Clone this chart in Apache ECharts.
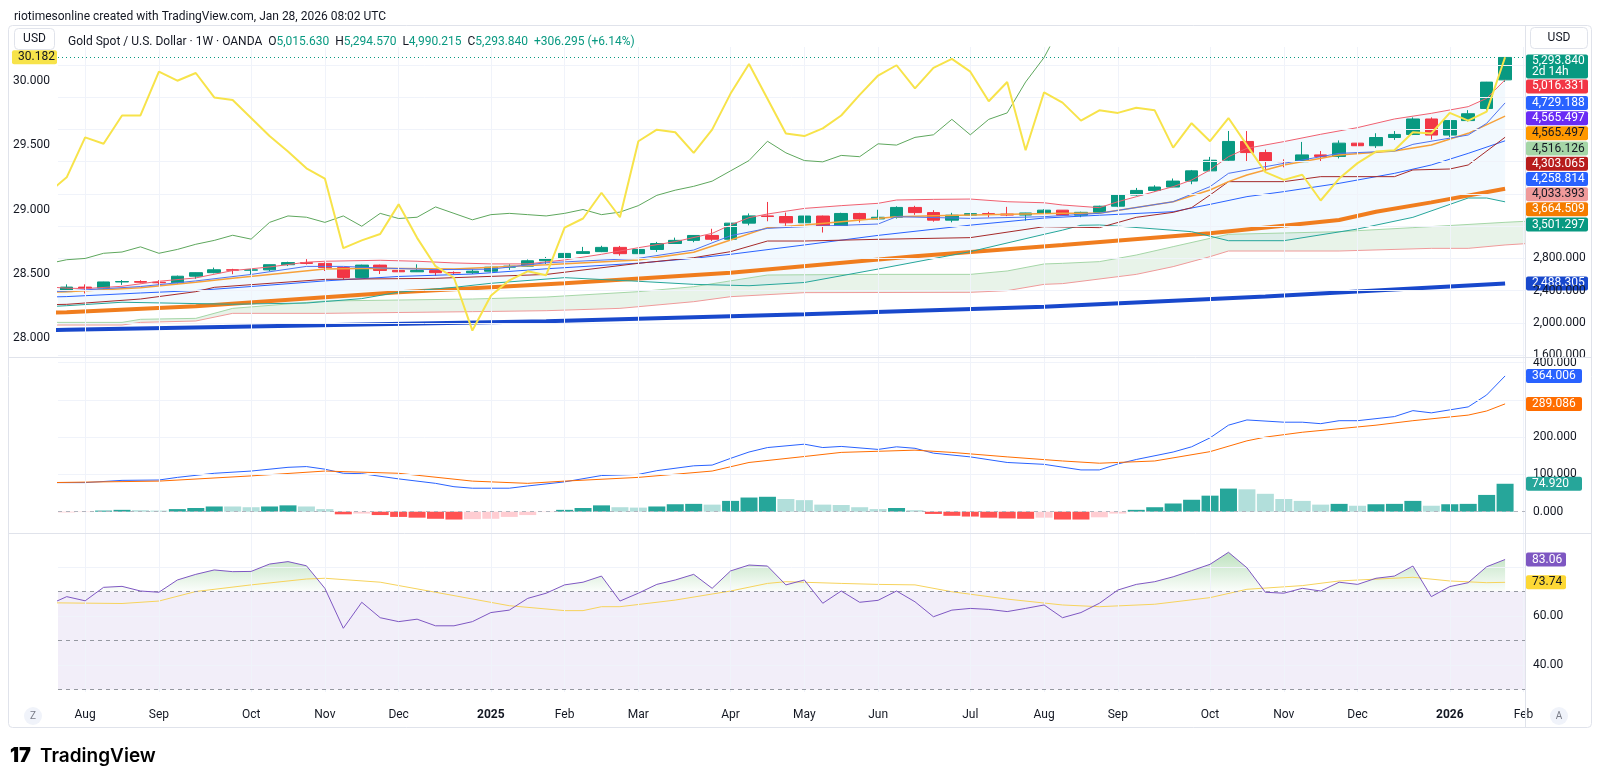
<!DOCTYPE html>
<html>
<head>
<meta charset="utf-8">
<title>Gold Spot / U.S. Dollar · 1W · OANDA</title>
<script src="https://cdn.jsdelivr.net/npm/echarts@6/dist/echarts.min.js"></script>
<style>
  html, body { margin: 0; padding: 0; background: #ffffff; }
  #chart { width: 1600px; height: 783px; }
</style>
</head>
<body>
<div id="chart"></div>
<script>
// weekly bars, first bar = week of 29 Jul 2024 (index 0), last = week of 26 Jan 2026 (index 78)
const firstWeek = Date.UTC(2024, 6, 29);
const weekDates = [];
for (let i = 0; i < 80; i++) weekDates.push(new Date(firstWeek + i * 7 * 86400000));
const monthNames = ['Jan', 'Feb', 'Mar', 'Apr', 'May', 'Jun', 'Jul', 'Aug', 'Sep', 'Oct', 'Nov', 'Dec'];

// OHLC (USD)
const opens = [2387, 2443, 2431, 2507, 2512, 2503, 2497, 2578, 2622, 2658, 2653, 2657, 2721, 2747, 2737, 2685,
  2563, 2716, 2650, 2633, 2648, 2622, 2621, 2640, 2690, 2703, 2770, 2798, 2861, 2883, 2936, 2858, 2910, 2984,
  3023, 3084, 3037, 3237, 3327, 3319, 3241, 3325, 3202, 3357, 3289, 3310, 3432, 3368, 3274, 3336, 3355, 3350,
  3337, 3363, 3398, 3336, 3371, 3447, 3586, 3643, 3685, 3759, 3886, 4018, 4251, 4113, 4002, 4000, 4084, 4065,
  4230, 4198, 4300, 4338, 4530, 4330, 4510, 4660, 5015.63];
const highs = [2477, 2477, 2509, 2531, 2528, 2529, 2586, 2625, 2685, 2670, 2668, 2722, 2758, 2790, 2750, 2689,
  2721, 2721, 2665, 2726, 2664, 2638, 2665, 2697, 2726, 2786, 2817, 2886, 2942, 2956, 2954, 2930, 3004, 3057,
  3087, 3167, 3245, 3357, 3500, 3368, 3435, 3330, 3366, 3365, 3403, 3446, 3452, 3398, 3365, 3374, 3377, 3439,
  3365, 3409, 3400, 3379, 3453, 3599, 3674, 3707, 3791, 3897, 4059, 4381, 4380, 4150, 4029, 4245, 4132, 4264,
  4260, 4353, 4380, 4550, 4550, 4515, 4640, 4990, 5294.57];
const lows = [2382, 2364, 2427, 2470, 2491, 2471, 2485, 2546, 2614, 2603, 2603, 2640, 2704, 2723, 2643, 2536,
  2560, 2605, 2613, 2630, 2583, 2604, 2605, 2635, 2656, 2700, 2730, 2795, 2855, 2877, 2833, 2856, 2880, 2982,
  3000, 3015, 2957, 3210, 3260, 3202, 3223, 3120, 3195, 3245, 3280, 3293, 3340, 3255, 3247, 3282, 3309, 3324,
  3268, 3352, 3330, 3311, 3351, 3436, 3578, 3627, 3684, 3720, 3884, 4000, 4004, 3886, 3930, 3997, 4000, 4040,
  4160, 4170, 4270, 4330, 4275, 4305, 4500, 4640, 4990.215];
const closes = [2443, 2431, 2507, 2512, 2503, 2497, 2578, 2622, 2658, 2653, 2657, 2721, 2747, 2737, 2685, 2563,
  2716, 2650, 2633, 2648, 2622, 2621, 2640, 2690, 2703, 2770, 2798, 2861, 2883, 2936, 2858, 2910, 2984, 3023,
  3084, 3037, 3237, 3327, 3319, 3241, 3325, 3202, 3357, 3289, 3310, 3432, 3368, 3274, 3336, 3355, 3350, 3337,
  3363, 3398, 3336, 3371, 3447, 3586, 3643, 3685, 3759, 3886, 4018, 4251, 4113, 4002, 4000, 4084, 4065, 4230,
  4198, 4300, 4338, 4530, 4330, 4510, 4595, 4987.5, 5293.84];

// overlays on the left scale, one value per week starting at week -1
const yellowLine = [29.13, 29.25, 29.56, 29.51, 29.73, 29.73, 30.07, 30.00, 30.06, 29.87, 29.85, 29.71, 29.57,
  29.45, 29.32, 29.24, 28.70, 28.76, 28.81, 29.04, 28.78, 28.56, 28.47, 28.06, 28.33, 28.45, 28.52, 28.49, 28.86,
  28.93, 29.13, 28.94, 29.53, 29.62, 29.60, 29.44, 29.62, 29.90, 30.13, 29.86, 29.59, 29.57, 29.63, 29.73, 29.89,
  30.04, 30.12, 29.94, 30.10, 30.17, 30.07, 29.84, 29.99, 29.46, 29.91, 29.83, 29.69, 29.77, 29.75, 29.79, 29.77,
  29.48, 29.67, 29.53, 29.71, 29.50, 29.29, 29.23, 29.27, 29.07, 29.24, 29.36, 29.45, 29.46, 29.60, 29.59, 29.75,
  29.69, 29.76, 30.182];
const greenLine = [28.58, 28.61, 28.62, 28.66, 28.67, 28.71, 28.66, 28.69, 28.73, 28.76, 28.80, 28.77, 28.90,
  28.95, 28.94, 28.90, 28.95, 28.87, 28.97, 28.93, 28.94, 29.02, 28.97, 28.92, 28.96, 28.97, 28.96, 28.95, 28.97,
  29.00, 28.96, 28.98, 29.03, 29.11, 29.15, 29.18, 29.22, 29.30, 29.38, 29.53, 29.44, 29.38, 29.37, 29.42, 29.41,
  29.51, 29.50, 29.56, 29.58, 29.70, 29.58, 29.70, 29.75, 29.99, 30.18, 30.45];

// price-scale indicator lines as [week, value]
const upperBand = [[-1, 2445], [0, 2430], [1, 2424], [3, 2453], [5, 2515], [7, 2557], [9, 2648], [11, 2693],
  [13, 2752], [14, 2764], [17, 2776], [19, 2764], [21, 2743], [23, 2731], [25, 2731], [27, 2780], [29, 2850],
  [31, 2932], [33, 3007], [35, 3110], [36, 3214], [37, 3305], [38, 3350], [40, 3420], [42, 3454], [44, 3483],
  [45, 3524], [47, 3532], [49, 3536], [51, 3503], [53, 3490], [54, 3462], [56, 3429], [57, 3503], [58, 3565],
  [59, 3628], [60, 3690], [61, 3772], [62, 3897], [63, 4062], [64, 4166], [66, 4249], [68, 4340], [70, 4423],
  [72, 4530], [74, 4600], [76, 4683], [77, 4786], [78, 5016.331]];
const lowerBand = [[-1, 2200], [0, 2212], [3, 2255], [9, 2230], [13, 2245], [16, 2300], [18, 2380], [21, 2440],
  [23, 2490], [27, 2560], [31, 2515], [34, 2477], [37, 2460], [40, 2500], [44, 2667], [49, 2883], [53, 3098],
  [54, 3150], [55, 3210], [56, 3214], [57, 3200], [61, 3131], [63, 3019], [66, 3019], [70, 3164], [73, 3309],
  [76, 3549], [77, 3549], [78, 3501.297]];
const basisLine = [[-1, 2320], [0, 2325], [4, 2370], [7, 2400], [10, 2450], [14, 2520], [18, 2575], [22, 2605],
  [26, 2670], [31, 2740], [34, 2800], [36, 2850], [40, 2966], [44, 3085], [49, 3212], [53, 3300], [56, 3335],
  [60, 3379], [62, 3470], [64, 3566], [66, 3628], [69, 3731], [72, 3855], [74, 3959], [76, 4103], [78, 4258.814]];
const fastLine = [[-1, 2385], [0, 2395], [4, 2450], [7, 2520], [10, 2600], [13, 2700], [15, 2700], [17, 2680],
  [20, 2660], [23, 2665], [26, 2745], [31, 2800], [34, 2903], [36, 3081], [38, 3172], [40, 3193], [44, 3226],
  [45, 3317], [49, 3296], [53, 3317], [56, 3359], [60, 3503], [62, 3690], [63, 3855], [66, 3979], [69, 4103],
  [72, 4132], [73, 4215], [76, 4331], [77, 4476], [78, 4729.188]];
const orangeLine = [[-1, 2380], [0, 2386], [4, 2436], [7, 2502], [9, 2552], [14, 2668], [17, 2676], [21, 2668],
  [26, 2720], [31, 2780], [34, 2875], [36, 3027], [38, 3181], [40, 3214], [42, 3255], [45, 3317], [47, 3329],
  [54, 3359], [56, 3359], [60, 3503], [62, 3648], [63, 3752], [64, 3835], [66, 3959], [69, 4083], [72, 4132],
  [74, 4207], [76, 4352], [78, 4565.497]];
const baseLine = [[-1, 2225], [0, 2229], [4, 2295], [7, 2386], [8, 2440], [14, 2539], [20, 2552], [26, 2600],
  [31, 2738], [34, 2808], [36, 2883], [38, 3015], [40, 3015], [44, 3036], [49, 3057], [53, 3193], [56, 3181],
  [58, 3309], [60, 3371], [61, 3429], [62, 3586], [63, 3752], [66, 3752], [68, 3814], [72, 3814], [73, 3897],
  [75, 3909], [76, 3959], [78, 4303.065]];
const ma50Line = [[-1, 2122], [0, 2132], [7, 2205], [14, 2316], [18, 2378], [27, 2490], [36, 2622], [46, 2825],
  [54, 2966], [62, 3110], [69, 3276], [71, 3379], [74, 3495], [78, 3664.509]];
const ma200Line = [[-1, 1908], [0, 1912], [13, 1965], [26, 2020], [40, 2105], [53, 2200], [65, 2325], [78, 2488.305]];
const cloudTop = [[-1, 2005], [3, 2005], [4, 2043], [7, 2055], [9, 2179], [14, 2270], [22, 2295], [26, 2320],
  [31, 2386], [34, 2448], [38, 2593], [44, 2601], [49, 2601], [51, 2643], [53, 2730], [54, 2738], [56, 2759],
  [58, 2841], [60, 2945], [62, 3048], [63, 3098], [69, 3131], [73, 3181], [78, 3247], [80, 3270]];
const cloudBottom = [[-1, 1972], [3, 1972], [4, 2005], [7, 2022], [9, 2117], [14, 2117], [22, 2138], [26, 2150],
  [30, 2179], [34, 2262], [36, 2324], [40, 2374], [49, 2378], [51, 2399], [53, 2477], [54, 2486], [58, 2601],
  [60, 2697], [62, 2821], [63, 2891], [69, 2891], [74, 2924], [76, 2924], [78, 2966], [80, 2995]];

// MACD pane
const macdLine = [[-1, 78], [1, 78], [3, 84], [5, 85], [6, 92], [8, 103], [10, 109], [12, 119], [13, 121],
  [14, 114], [15, 103], [16, 102], [18, 88], [20, 76], [21, 67], [22, 63], [24, 63], [25, 69], [27, 80], [29, 97],
  [31, 100], [32, 110], [34, 123], [35, 125], [36, 143], [37, 160], [38, 172], [40, 181], [41, 172], [42, 175],
  [44, 167], [45, 174], [46, 170], [47, 157], [49, 147], [51, 132], [53, 127], [55, 112], [56, 112], [57, 128],
  [58, 140], [60, 160], [61, 174], [62, 198], [63, 232], [64, 246], [66, 240], [67, 240], [68, 236], [69, 244],
  [70, 244], [72, 255], [73, 271], [74, 265], [75, 273], [76, 281], [77, 313], [78, 364.006]];
const signalLine = [[-1, 78], [5, 82], [10, 96], [14, 109], [18, 103], [22, 82], [25, 76], [27, 82], [31, 92],
  [35, 109], [37, 132], [40, 148], [42, 159], [46, 165], [48, 159], [51, 147], [54, 136], [56, 130], [59, 136],
  [62, 161], [64, 190], [65, 200], [67, 213], [71, 232], [73, 244], [76, 259], [77, 270], [78, 289.086]];
const histValues = [-2, -1, 3, 5, 4, 3, 7, 10, 14, 14, 12, 14, 17, 14, 7, -7, -5, -9, -14, -16, -19, -21, -20,
  -19, -14, -9, -1, 5, 10, 17, 12, 11, 14, 20, 21, 19, 29, 38, 40, 34, 31, 19, 18, 12, 7, 10, 4, -6, -11, -13,
  -16, -18, -19, -16, -21, -21, -15, -5, 5, 12, 22, 32, 43, 62, 60, 48, 34, 29, 19, 21, 16, 20, 21, 29, 16, 20,
  21, 45, 74.92];

// RSI pane, one value per week starting at week -1
const rsiValues = [64.5, 67.9, 66.2, 71.7, 72.1, 70.2, 69.7, 74.7, 77.0, 78.8, 78.1, 78.2, 81.2, 82.2, 80.5, 71.3,
  55.0, 65.6, 59.3, 57.7, 58.7, 56.0, 56.0, 57.7, 61.4, 62.4, 67.2, 69.3, 72.7, 73.8, 76.3, 66.1, 69.3, 72.9, 74.7,
  77.0, 71.3, 78.4, 80.8, 80.4, 72.7, 74.7, 65.2, 70.2, 65.6, 66.4, 70.2, 65.8, 59.7, 62.4, 63.1, 62.7, 61.8, 63.1,
  64.5, 59.3, 61.4, 65.2, 70.6, 72.9, 74.0, 76.0, 78.5, 81.1, 86.0, 79.7, 69.7, 69.3, 71.3, 70.2, 73.8, 72.9, 75.4,
  76.3, 80.4, 67.9, 72.0, 73.6, 80.1, 83.06];
const rsiAverage = [[-1, 65.4], [3, 65.1], [5, 66.1], [7, 70], [10, 72.7], [13, 75.1], [14, 75.4], [17, 73.8],
  [20, 69.7], [24, 64.2], [27, 62.2], [28, 62.2], [29, 63.8], [30, 63.8], [33, 66.5], [36, 70.2], [38, 73.3],
  [39, 74.0], [42, 73.3], [44, 72.9], [46, 72.7], [48, 69.9], [51, 66.9], [54, 64.5], [56, 63.8], [59, 64.8],
  [62, 67.5], [64, 70.9], [67, 72.4], [69, 74.3], [73, 75.8], [75, 74.3], [77, 73.6], [78, 73.74]];

// axis ticks
const leftTicks = [28, 28.5, 29, 29.5, 30];
const priceGrid = [1600, 2000, 2400, 2800, 3200, 3600, 4000, 4400, 4800, 5200];
const priceTicks = [1600, 2000, 2400, 2800];
const macdGrid = [100, 200, 300, 400];
const macdTicks = [0, 100, 200, 400];
const rsiGrid = [40, 60, 80];
const rsiTicks = [40, 60];
const rsiLevels = [70, 50, 30];

// last-value tags
const priceTags = [
  {v: 5293.84, text: '5,293.840', sub: '2d 14h', bg: '#089981', fg: '#ffffff'},
  {v: 5016.331, text: '5,016.331', bg: '#f23645', fg: '#ffffff'},
  {v: 4729.188, text: '4,729.188', bg: '#2962ff', fg: '#ffffff'},
  {v: 4565.497, text: '4,565.497', bg: '#6a2cf5', fg: '#ffffff'},
  {v: 4565.497, text: '4,565.497', bg: '#ff9800', fg: '#131722'},
  {v: 4516.126, text: '4,516.126', bg: '#a5d6a7', fg: '#131722'},
  {v: 4303.065, text: '4,303.065', bg: '#b71c1c', fg: '#ffffff'},
  {v: 4258.814, text: '4,258.814', bg: '#2962ff', fg: '#ffffff'},
  {v: 4033.393, text: '4,033.393', bg: '#ef9a9a', fg: '#131722'},
  {v: 3664.509, text: '3,664.509', bg: '#f57c00', fg: '#ffffff'},
  {v: 3501.297, text: '3,501.297', bg: '#089981', fg: '#ffffff'},
  {v: 2488.305, text: '2,488.305', bg: '#1848cc', fg: '#ffffff'}
];
const macdTags = [
  {v: 364.006, text: '364.006', bg: '#2962ff', fg: '#ffffff'},
  {v: 289.086, text: '289.086', bg: '#ff6d00', fg: '#ffffff'},
  {v: 74.92, text: '74.920', bg: '#26a69a', fg: '#ffffff'}
];
const rsiTags = [
  {v: 83.06, text: '83.06', bg: '#7e57c2', fg: '#ffffff'},
  {v: 73.74, text: '73.74', bg: '#fdd835', fg: '#131722'}
];

const FONT = 'Roboto, "Liberation Sans", sans-serif';
const TEXT = '#131722';
const GRID_LINE = '#f0f3fa';
const X_MIN = -0.472, X_MAX = 79.08;

const monthIdx = [];
for (let i = 1; i < weekDates.length; i++) {
  if (weekDates[i].getUTCMonth() !== weekDates[i - 1].getUTCMonth()) monthIdx.push(i);
}
function monthLabel(i) {
  const d = weekDates[i];
  return d.getUTCMonth() === 0 ? '{y|' + d.getUTCFullYear() + '}' : monthNames[d.getUTCMonth()];
}
const fmt3 = v => v.toLocaleString('en-US', {minimumFractionDigits: 3, maximumFractionDigits: 3});
const withStart = (arr, start) => arr.map((v, k) => [k + start, v]);

const candleData = opens.map((o, i) => [i, o, closes[i], lows[i], highs[i]]);
const histData = histValues.map((v, i) => {
  const prev = i > 0 ? histValues[i - 1] : -3;
  let color;
  if (v >= 0) color = v > prev ? '#26a69a' : '#b2dfdb';
  else color = v > prev ? '#ffcdd2' : '#ff5252';
  return {value: [i, v], itemStyle: {color: color}};
});
const rsiLine = withStart(rsiValues, -1);

function xAxisFor(gridIndex, withLabels) {
  return {
    type: 'value', gridIndex: gridIndex, min: X_MIN, max: X_MAX,
    axisLine: {show: false}, axisTick: {show: false}, splitLine: {show: false},
    axisLabel: withLabels ? {
      show: true, customValues: monthIdx, margin: 17, color: TEXT, fontSize: 12, fontFamily: FONT,
      formatter: v => monthLabel(Math.round(v)),
      rich: {y: {fontWeight: 'bold', fontSize: 12, color: TEXT, fontFamily: FONT}}
    } : {show: false}
  };
}
function yAxisFor(gridIndex, pos, min, max, ticks, formatter) {
  return {
    type: 'value', gridIndex: gridIndex, position: pos, min: min, max: max,
    axisLine: {show: false}, axisTick: {show: false}, splitLine: {show: false},
    axisLabel: {customValues: ticks, formatter: formatter, color: TEXT, fontSize: 12, fontFamily: FONT, margin: 8}
  };
}
function gridLines(values, dashed) {
  return values.map(v => ({yAxis: v, lineStyle: dashed ? {color: '#9598a1', type: [4, 4], width: 1} : {color: GRID_LINE, width: 1, type: 'solid'}}));
}
function monthLines() {
  return monthIdx.map(v => ({xAxis: v, lineStyle: {color: GRID_LINE, width: 1, type: 'solid'}}));
}
function lineSeries(name, data, color, width, xi, yi, z) {
  return {
    name: name, type: 'line', data: data, xAxisIndex: xi, yAxisIndex: yi, z: z || 4,
    showSymbol: false, symbol: 'none', silent: true, clip: true,
    lineStyle: {color: color, width: width}
  };
}
function polygonBetween(top, bottom, api) {
  const pts = top.map(p => api.coord(p));
  for (let k = bottom.length - 1; k >= 0; k--) pts.push(api.coord(bottom[k]));
  return pts;
}

const option = {
  animation: false,
  backgroundColor: '#ffffff',
  textStyle: {fontFamily: FONT},
  title: [
    {text: 'riotimesonline created with TradingView.com, Jan 28, 2026 08:02 UTC', left: 9, top: 6,
      textStyle: {fontSize: 12, fontWeight: 'normal', color: TEXT, fontFamily: FONT}},
    {text: '{t|Gold Spot / U.S. Dollar · 1W · OANDA}  {d|O}{g|5,015.630}  {d|H}{g|5,294.570}  {d|L}{g|4,990.215}  {d|C}{g|5,293.840}  {g|+306.295 (+6.14%)}',
      left: 63, top: 31,
      textStyle: {fontSize: 12, fontWeight: 'normal', fontFamily: FONT,
        rich: {t: {color: TEXT, fontSize: 12, fontFamily: FONT}, d: {color: TEXT, fontSize: 12, fontFamily: FONT},
          g: {color: '#089981', fontSize: 12, fontFamily: FONT}}}}
  ],
  grid: [
    {left: 58, top: 47, width: 1467, height: 310},
    {left: 58, top: 358, width: 1467, height: 175},
    {left: 58, top: 534, width: 1467, height: 158}
  ],
  xAxis: [xAxisFor(0, false), xAxisFor(1, false), xAxisFor(2, true)],
  yAxis: [
    yAxisFor(0, 'left', 27.8548, 30.2617, leftTicks, v => v.toFixed(3)),
    yAxisFor(0, 'right', 1575.2, 5423.5, priceTicks, fmt3),
    yAxisFor(1, 'right', -57.1, 412.1, macdTicks, fmt3),
    yAxisFor(2, 'right', 28.98, 93.47, rsiTicks, v => v.toFixed(2))
  ],
  series: [
    // main pane: bands and clouds
    {
      type: 'custom', xAxisIndex: 0, yAxisIndex: 1, z: 0, silent: true, clip: true, data: [[0, 3000]],
      renderItem: (params, api) => ({
        type: 'polygon', shape: {points: polygonBetween(upperBand, lowerBand, api)},
        style: {fill: 'rgba(33,150,243,0.06)'}
      }),
      markLine: {silent: true, symbol: 'none', label: {show: false}, animation: false,
        data: gridLines(priceGrid, false).concat(monthLines())}
    },
    {
      type: 'custom', xAxisIndex: 0, yAxisIndex: 1, z: 1, silent: true, clip: true, data: [[0, 2500]],
      renderItem: (params, api) => ({
        type: 'polygon', shape: {points: polygonBetween(cloudTop, cloudBottom, api)},
        style: {fill: 'rgba(67,160,71,0.12)'}
      })
    },
    lineSeries('Cloud A', cloudTop, '#a5d6a7', 1, 0, 1, 2),
    lineSeries('Cloud B', cloudBottom, '#ef9a9a', 1, 0, 1, 2),
    lineSeries('MA 200', ma200Line, '#1848cc', 4, 0, 1, 3),
    lineSeries('MA 50', ma50Line, '#f07d1e', 4, 0, 1, 3),
    {
      name: 'Gold', type: 'candlestick', xAxisIndex: 0, yAxisIndex: 1, z: 3, silent: true,
      data: candleData, encode: {x: 0, y: [1, 2, 3, 4]}, barWidth: 13,
      itemStyle: {color: '#089981', color0: '#f23645', borderColor: '#089981', borderColor0: '#f23645', borderWidth: 1},
      markLine: {silent: true, symbol: 'none', label: {show: false}, animation: false,
        data: [{yAxis: 5293.84, lineStyle: {color: '#089981', type: [1, 3], width: 1}}]}
    },
    lineSeries('Lower band', lowerBand, '#26a69a', 1, 0, 1),
    lineSeries('Basis', basisLine, '#2962ff', 1, 0, 1),
    lineSeries('Base line', baseLine, '#a52a2a', 1, 0, 1),
    lineSeries('Upper band', upperBand, '#f06070', 1, 0, 1),
    lineSeries('Orange', orangeLine, '#f7a13a', 1.5, 0, 1),
    lineSeries('Fast', fastLine, '#4f73f0', 1, 0, 1),
    lineSeries('Green', withStart(greenLine, -1), '#5ea75d', 1, 0, 0, 5),
    lineSeries('Yellow', withStart(yellowLine, -1), '#f7e34a', 2, 0, 0, 6),

    // MACD pane
    {
      type: 'line', xAxisIndex: 1, yAxisIndex: 2, data: [[-10, 0]], symbol: 'none', silent: true, z: 0,
      markLine: {silent: true, symbol: 'none', label: {show: false}, animation: false,
        data: gridLines(macdGrid, false).concat(monthLines()).concat([{yAxis: 0, lineStyle: {color: '#b2b5be', type: [4, 4], width: 1}}])}
    },
    {type: 'bar', name: 'Histogram', xAxisIndex: 1, yAxisIndex: 2, data: histData, barWidth: 17, z: 2, silent: true},
    lineSeries('MACD', macdLine, '#2962ff', 1, 1, 2, 4),
    lineSeries('Signal', signalLine, '#ff6d00', 1, 1, 2, 4),

    // RSI pane
    {
      type: 'line', xAxisIndex: 2, yAxisIndex: 3, data: [[-10, 0]], symbol: 'none', silent: true, z: 0,
      markArea: {silent: true, itemStyle: {color: 'rgba(126,87,194,0.1)'}, data: [[{yAxis: 70}, {yAxis: 30}]]},
      markLine: {silent: true, symbol: 'none', label: {show: false}, animation: false,
        data: gridLines(rsiGrid, false).concat(monthLines()).concat(gridLines(rsiLevels, true))}
    },
    {
      type: 'custom', xAxisIndex: 2, yAxisIndex: 3, z: 2, silent: true, data: [[0, 70]],
      renderItem: function (params, api) {
        const base = api.coord([0, 70])[1];
        const top = api.coord([0, 90])[1];
        const pts = rsiLine.map(p => api.coord(p));
        const poly = [[pts[0][0], base]].concat(pts, [[pts[pts.length - 1][0], base]]);
        const cs = params.coordSys;
        return {
          type: 'polygon', shape: {points: poly},
          style: {fill: new echarts.graphic.LinearGradient(0, top, 0, base, [
            {offset: 0, color: 'rgba(76,175,80,0.45)'}, {offset: 1, color: 'rgba(76,175,80,0.02)'}], true)},
          clipPath: {type: 'rect', shape: {x: cs.x, y: cs.y, width: cs.width, height: base - cs.y}}
        };
      }
    },
    lineSeries('RSI MA', rsiAverage, '#f6d35c', 1, 2, 3, 4),
    lineSeries('RSI', rsiLine, '#7e57c2', 1, 2, 3, 5)
  ]
};

const chart = echarts.init(document.getElementById('chart'));
chart.setOption(option);

// chrome + value tags
const BORDER = '#e0e3eb';
const g = [
  {type: 'rect', shape: {x: 8.5, y: 25.5, width: 1583, height: 702, r: 4}, style: {fill: 'none', stroke: BORDER, lineWidth: 1}, z: 10},
  {type: 'line', shape: {x1: 1525.5, y1: 26, x2: 1525.5, y2: 727}, style: {stroke: BORDER, lineWidth: 1}, z: 10},
  {type: 'line', shape: {x1: 9, y1: 357.5, x2: 1591, y2: 357.5}, style: {stroke: BORDER, lineWidth: 1}, z: 10},
  {type: 'line', shape: {x1: 9, y1: 533.5, x2: 1591, y2: 533.5}, style: {stroke: BORDER, lineWidth: 1}, z: 10},
  {type: 'rect', shape: {x: 14.5, y: 28.5, width: 40, height: 21, r: 4}, style: {fill: '#fff', stroke: BORDER, lineWidth: 1}, z: 10},
  {type: 'text', x: 34.5, y: 39, style: {text: 'USD', fill: TEXT, font: '12px ' + FONT, textAlign: 'center', textVerticalAlign: 'middle'}, z: 11},
  {type: 'rect', shape: {x: 1530.5, y: 27.5, width: 57, height: 21, r: 4}, style: {fill: '#fff', stroke: BORDER, lineWidth: 1}, z: 10},
  {type: 'text', x: 1559, y: 38, style: {text: 'USD', fill: TEXT, font: '12px ' + FONT, textAlign: 'center', textVerticalAlign: 'middle'}, z: 11},
  {type: 'circle', shape: {cx: 33, cy: 716, r: 9}, style: {fill: '#f0f3fa'}, z: 10},
  {type: 'text', x: 33, y: 716, style: {text: 'Z', fill: '#787b86', font: '10px ' + FONT, textAlign: 'center', textVerticalAlign: 'middle'}, z: 11},
  {type: 'circle', shape: {cx: 1559, cy: 716, r: 9}, style: {fill: '#f0f3fa'}, z: 10},
  {type: 'text', x: 1559, y: 716, style: {text: 'A', fill: '#787b86', font: '10px ' + FONT, textAlign: 'center', textVerticalAlign: 'middle'}, z: 11},
  {type: 'text', x: 10, y: 756, style: {text: '17', fill: '#000', font: '900 20px Inter, ' + FONT, textVerticalAlign: 'middle'}, z: 11},
  {type: 'text', x: 40, y: 756, style: {text: 'TradingView', fill: '#000', font: '600 19px Inter, ' + FONT, textVerticalAlign: 'middle'}, z: 11}
];

function tag(x, yc, w, t, h) {
  h = h || 14;
  const children = [
    {type: 'rect', shape: {x: 0, y: 0, width: w, height: h, r: 2}, style: {fill: t.bg}},
    {type: 'text', x: 6, y: t.sub ? 6.5 : h / 2, style: {text: t.text, fill: t.fg, font: '12px ' + FONT, textVerticalAlign: 'middle'}}
  ];
  if (t.sub) children.push({type: 'text', x: 6, y: 18, style: {text: t.sub, fill: t.fg, font: '12px ' + FONT, textVerticalAlign: 'middle'}});
  return {type: 'group', x: x, y: t.sub ? yc : yc - h / 2, z: 20, children: children};
}

// stack the price tags downwards so they never overlap
let prevCenter = -Infinity;
priceTags.forEach(t => {
  const y = chart.convertToPixel({yAxisIndex: 1}, t.v);
  if (t.sub) {
    const top = y - 3;
    g.push(tag(1526, top, 62, t, 24));
    prevCenter = top + 24 + 1 + 7 - 15.2;
  } else {
    const c = Math.max(y, prevCenter + 15.2);
    g.push(tag(1526, c, 62, t));
    prevCenter = c;
  }
});
macdTags.forEach(t => g.push(tag(1526, chart.convertToPixel({yAxisIndex: 2}, t.v), 56, t)));
rsiTags.forEach(t => g.push(tag(1526, chart.convertToPixel({yAxisIndex: 3}, t.v), 40, t)));
const lastYellow = yellowLine[yellowLine.length - 1];
g.push(tag(12, chart.convertToPixel({yAxisIndex: 0}, lastYellow), 45,
  {text: lastYellow.toFixed(3), bg: '#f7e34a', fg: TEXT}));

chart.setOption({graphic: g});
</script>
</body>
</html>
